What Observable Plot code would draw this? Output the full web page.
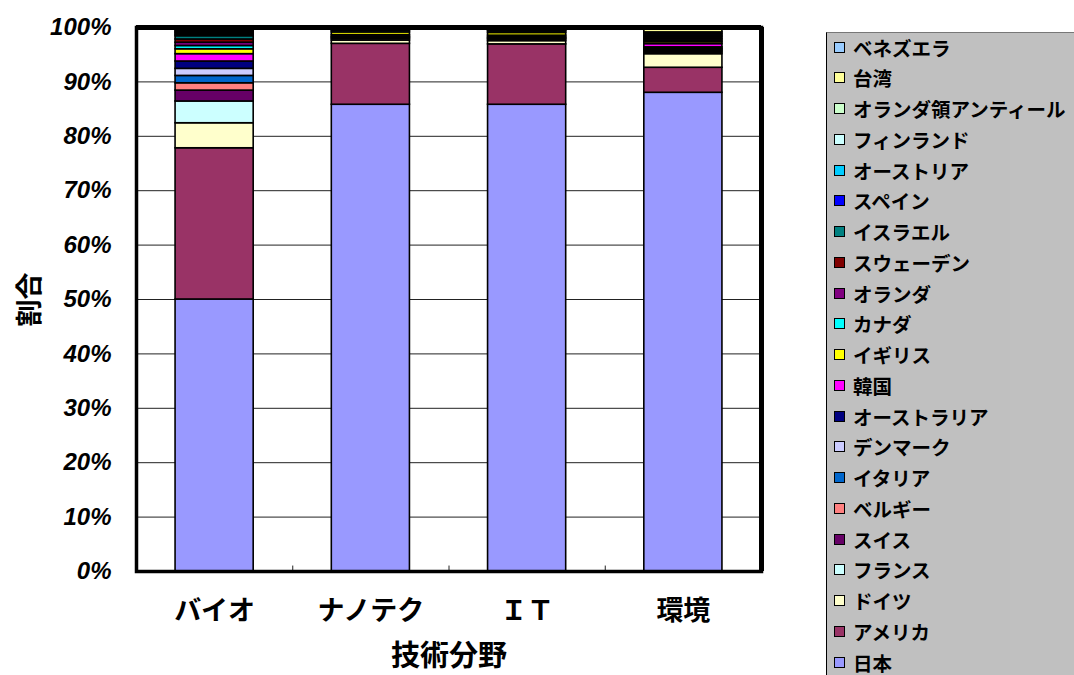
<!DOCTYPE html>
<html><head><meta charset="utf-8">
<script src="https://cdn.jsdelivr.net/npm/d3@7"></script>
<script src="https://cdn.jsdelivr.net/npm/@observablehq/plot@0.6"></script>
<style>
html,body{margin:0;padding:0;background:#fff;}
#wrap{position:relative;width:1074px;height:675px;overflow:hidden;}
#legend{position:absolute;left:826px;top:32px;width:260px;height:660px;background:#C0C0C0;border-left:1.5px solid #000;border-top:1px solid #777;box-sizing:border-box;}
.item{position:absolute;left:7px;height:24px;display:flex;align-items:center;font-family:"Noto Sans CJK JP",sans-serif;font-weight:bold;font-size:19.5px;color:#000;white-space:nowrap;}
.sw{width:9px;height:9px;border:1.5px solid #000;margin-right:8px;}
</style></head>
<body><div id="wrap"></div>
<script>
const categories = ["バイオ", "ナノテク", "ＩＴ", "環境"];
const countries = ["日本","アメリカ","ドイツ","フランス","スイス","ベルギー","イタリア","デンマーク","オーストラリア","韓国","イギリス","カナダ","オランダ","スウェーデン","イスラエル","スペイン","オーストリア","フィンランド","オランダ領アンティール","台湾","ベネズエラ"];
const colors = ["#9999FF","#993366","#FFFFCC","#CCFFFF","#660066","#FF8080","#0066CC","#CCCCFF","#000080","#FF00FF","#FFFF00","#00FFFF","#800080","#800000","#008080","#0000FF","#00CCFF","#CCFFFF","#CCFFCC","#FFFF99","#99CCFF"];
const bio  = [50.0, 27.8, 4.6, 4.0, 2.0, 1.35, 1.35, 1.3, 1.35, 1.35, 0.9, 0.6, 0.6, 0.6, 0.6, 0.27, 0.27, 0.27, 0.27, 0.27, 0.27];
const nano = [85.8, 11.2, 0.6, 0.3, 0.2, 0.2, 0, 0, 0, 0.3, 0.5, 0.3, 0.2, 0.2, 0.2, 0, 0, 0, 0, 0, 0];
const it   = [85.8, 11.1, 0.6, 0.3, 0.2, 0.2, 0, 0, 0, 0.3, 0.5, 0.3, 0.2, 0.2, 0.3, 0, 0, 0, 0, 0, 0];
const env  = [88.0, 4.6, 2.5, 0.3, 0.25, 0.25, 0.2, 0, 0.25, 0.6, 0.35, 0.3, 0.3, 0.3, 0.3, 0.3, 0.3, 0, 0, 0.5, 0.4];
const yTicks = [0,10,20,30,40,50,60,70,80,90,100];
const separators = [0.5, 1.5, 2.5];

const series = [bio, nano, it, env];
const rows = [];
series.forEach((vals, i) => {
  let acc = 0;
  vals.forEach((v, j) => {
    if (v > 0) rows.push({i, country: countries[j], y1: acc, y2: acc + v});
    acc += v;
  });
});

const jp = '"Noto Sans CJK JP", sans-serif';
const chart = Plot.plot({
  width: 1074, height: 675,
  marginLeft: 136, marginRight: 313, marginTop: 27, marginBottom: 104,
  style: {background: "transparent", overflow: "visible"},
  x: {type: "linear", domain: [-0.5, 3.5]},
  y: {domain: [0, 100]},
  color: {domain: countries, range: colors},
  marks: [
    Plot.gridY(yTicks.filter(d => d > 0 && d < 100), {stroke: "#222", strokeOpacity: 1, strokeWidth: 1}),
    Plot.ruleX(separators, {y1: 0, y2: 1, stroke: "#222", strokeWidth: 1}),
    Plot.rect(rows, {x1: d => d.i - 0.25, x2: d => d.i + 0.25, y1: "y1", y2: "y2", fill: "country", stroke: "#000", strokeWidth: 1.6}),
    Plot.frame({stroke: "#000", strokeWidth: 3.5}),
    Plot.ruleY([100], {stroke: "#000", strokeWidth: 5}),
    Plot.ruleX([3.5], {stroke: "#000", strokeWidth: 5}),
    Plot.axisY({ticks: yTicks, tickFormat: d => d + "%", tickSize: 0, tickPadding: 25, fontSize: 24, fontStyle: "italic", fontWeight: "bold", fontFamily: '"Liberation Sans", Arial, sans-serif', fill: "#000", label: null}),
    Plot.axisX({ticks: [0,1,2,3], tickFormat: d => categories[d], tickSize: 0, tickPadding: 29, fontSize: 27, fontWeight: "bold", fontFamily: jp, fill: "#000", label: null}),
    Plot.text(["技術分野"], {x: 1.5, y: 0, text: d => d, dy: 85, fontSize: 29, fontWeight: "bold", fontFamily: jp, fill: "#000", style: "letter-spacing:6px"}),
    Plot.text(["割合"], {x: -0.5, y: 50, text: d => d, dx: -106, rotate: -90, fontSize: 27, fontWeight: "bold", fontFamily: jp, fill: "#000"})
  ]
});
const wrap = document.getElementById("wrap");
wrap.appendChild(chart);
chart.style.position = "absolute"; chart.style.left = "0"; chart.style.top = "0";

const legend = document.createElement("div");
legend.id = "legend";
const order = countries.map((c, j) => j).reverse();
order.forEach((j, k) => {
  const it = document.createElement("div");
  it.className = "item";
  it.style.top = (2 + k * 30.75) + "px";
  const sw = document.createElement("span");
  sw.className = "sw"; sw.style.background = colors[j];
  it.appendChild(sw);
  it.appendChild(document.createTextNode(countries[j]));
  legend.appendChild(it);
});
wrap.appendChild(legend);
</script></body></html>
